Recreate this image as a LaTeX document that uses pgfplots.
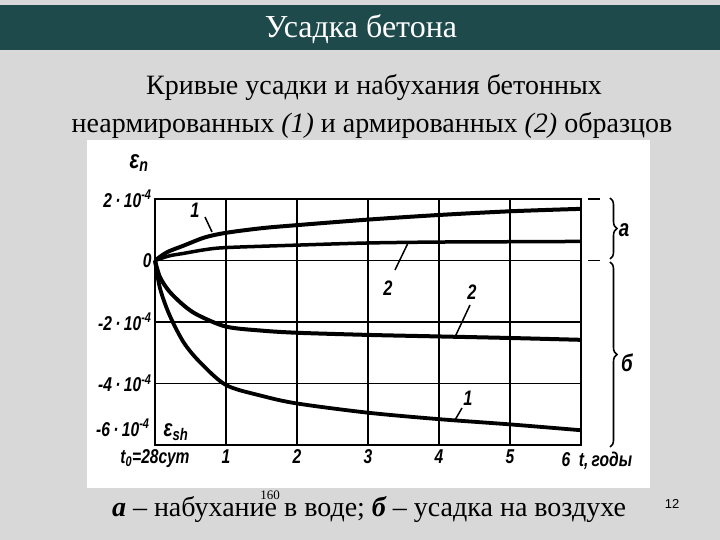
\documentclass[border=0pt]{standalone}
\usepackage{fontspec}
\setmainfont{Liberation Serif}
\newfontfamily\scan[FakeStretch=0.78]{Liberation Sans}
\newfontfamily\slidesans{Liberation Sans}
\usepackage{pgfplots}
\pgfplotsset{compat=1.18}
\usetikzlibrary{decorations.pathreplacing}
\definecolor{slidebg}{HTML}{D8D8D8}
\definecolor{titlebar}{HTML}{1F4A4B}
\newcommand{\fs}[1]{\fontsize{#1}{#1}\selectfont}

\begin{document}
\begin{tikzpicture}
\begin{scope}[x=1pt,y=1pt]
\useasboundingbox (0,0) rectangle (720,540);
\fill[slidebg] (0,0) rectangle (720,540);
\fill[titlebar] (0,490) rectangle (720,535);
\node[white] at (361,511) {\fs{32}Усадка бетона};
\node at (374,452) {\fs{28}Кривые усадки и набухания бетонных};
\node at (372,415) {\fs{28}неармированных \textit{(1)} и армированных \textit{(2)} образцов};
\fill[white] (87,52) rectangle (650,400);
\end{scope}

\begin{axis}[at={(155pt,95pt)}, anchor=south west, scale only axis,
  width=426pt, height=246pt, xmin=0, xmax=6, ymin=-6, ymax=2, clip=false,
  axis line style={line width=2.4pt}, grid=major, grid style={black, line width=1.7pt},
  major tick length=0pt,
  xtick={0,1,2,3,4,5}, xticklabels={{t\textsubscript{0}=28сут},1,2,3,4,5},
  ytick={-4,-2,0,2},
  yticklabels={{-4\,·\,10\textsuperscript{-4}},{-2\,·\,10\textsuperscript{-4}},{0\hspace{14pt}},{2\,·\,10\textsuperscript{-4}}},
  tick label style={font=\scan\bfseries\itshape\fs{20}},
  x tick label style={yshift=-1pt}]
% набухание: 1 - неармированный, 2 - армированный
\addplot[black, line width=4pt, smooth, tension=0.5] coordinates {(0,0) (0.17,0.27) (0.4,0.48) (0.7,0.75) (1,0.9) (1.5,1.05) (2,1.15) (3,1.33) (4,1.48) (5,1.6) (6,1.68)};
\addplot[black, line width=3.5pt, smooth, tension=0.5] coordinates {(0,0) (0.2,0.15) (0.4,0.23) (0.7,0.35) (1,0.42) (2,0.5) (3,0.57) (4,0.6) (5,0.61) (6,0.62)};
% усадка
\addplot[black, line width=4pt, smooth, tension=0.5] coordinates {(0,0) (0.07,-0.54) (0.2,-1.0) (0.4,-1.45) (0.6,-1.77) (1,-2.15) (1.5,-2.28) (2,-2.35) (3,-2.42) (4,-2.47) (5,-2.52) (6,-2.58)};
\addplot[black, line width=3.8pt, smooth, tension=0.5] coordinates {(0,0) (0.07,-0.9) (0.2,-1.75) (0.4,-2.65) (0.63,-3.3) (1,-4.05) (1.5,-4.4) (2,-4.65) (3,-4.95) (4,-5.16) (5,-5.33) (6,-5.52)};
\end{axis}

\begin{scope}[x=1pt,y=1pt, font=\scan\bfseries\itshape]
\node at (139,377) {\fs{26}ε\textsubscript{n}};
\node at (176,108) {\fs{24}ε\textsubscript{sh}};
\node[anchor=east] at (153,112) {\fs{20}-6\,·\,10\textsuperscript{-4}};
\node[anchor=west] at (558,79) {\fs{20}6\ \ t,\,годы};
% подписи кривых
\node at (195,330) {\fs{21}1};
\draw[line width=1.5pt] (205,323) -- (212,308);
\node at (388,252) {\fs{21}2};
\draw[line width=1.5pt] (395,270) -- (408,297);
\node at (472,248) {\fs{21}2};
\draw[line width=1.5pt] (470,235) -- (455,203);
\node at (468,142) {\fs{21}1};
\draw[line width=1.5pt] (462,132) -- (455,120);
% скобки а и б
\draw[line width=1.3pt] (588,341) -- (600,341);
\draw[line width=1.3pt] (588,279.5) -- (600,279.5);
\draw[line width=1.6pt, decorate, decoration={brace, amplitude=7pt}] (610,342) -- (610,281);
\draw[line width=1.6pt, decorate, decoration={brace, amplitude=7pt}] (610,278) -- (610,93);
\node at (624,310) {\fs{24}a};
\node at (627,177) {\fs{24}б};
% подпись слайда
\node at (369,30) {\normalfont\fs{28}{\bfseries\itshape а} – набухание в воде; {\bfseries\itshape б} – усадка на воздухе};
\node at (270,45) {\normalfont\fs{13}160};
\node at (672,36) {\slidesans\mdseries\upshape\fs{13}12};
\end{scope}
\end{tikzpicture}
\end{document}
